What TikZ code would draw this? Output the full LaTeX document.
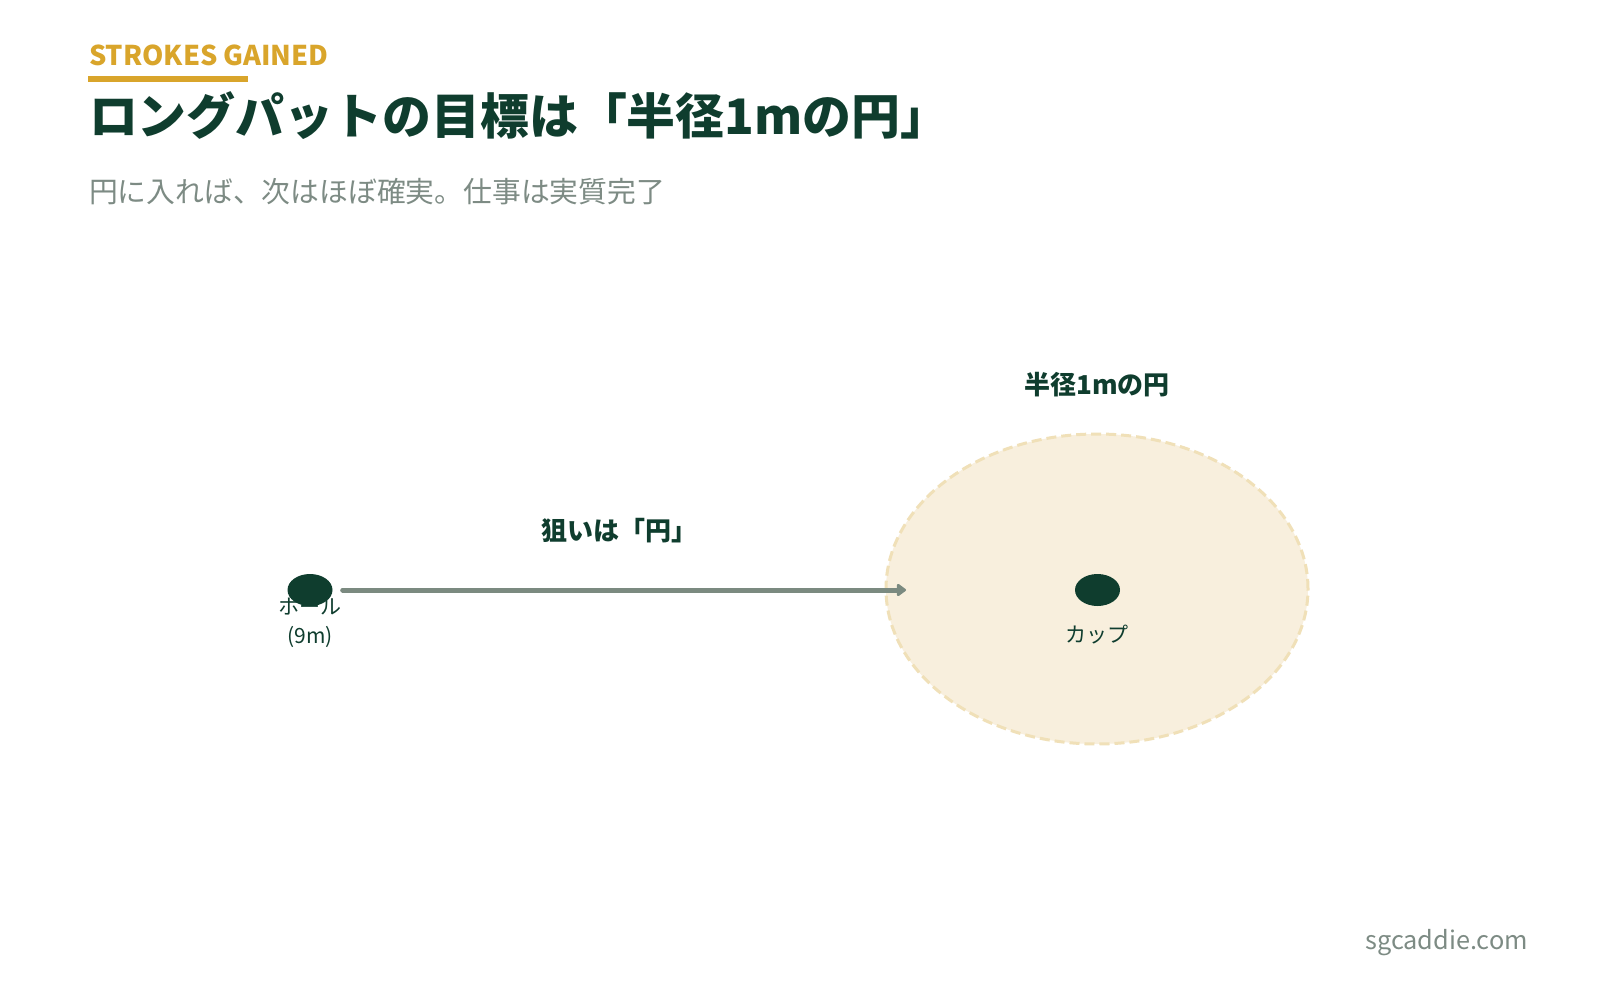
\documentclass[tikz,border=0pt]{standalone}
\usepackage{fontspec}
\setmainfont{Noto Sans CJK JP}
\usetikzlibrary{shapes.geometric,arrows.meta}
\definecolor{sgdark}{HTML}{0F3D2E}
\definecolor{sggold}{HTML}{D9A52B}
\definecolor{sggray}{HTML}{7D8B84}
\definecolor{sgarrow}{HTML}{7B8A80}
\definecolor{sgcream}{HTML}{F8EFDD}
\definecolor{sgcreamline}{HTML}{F0E0B8}
\tikzset{
  txt/.style={inner sep=0pt, outer sep=0pt},
  kicker/.style={txt, anchor=base west, text=sggold, font=\fontsize{27.2}{32}\selectfont\bfseries},
  headline/.style={txt, anchor=base west, text=sgdark, font=\fontsize{48.9}{58}\selectfont\bfseries},
  subline/.style={txt, anchor=base west, text=sggray, font=\fontsize{28.8}{34}\selectfont},
  boldlabel/.style={txt, anchor=base, text=sgdark, font=\fontsize{26}{30}\selectfont\bfseries},
  smalllabel/.style={txt, anchor=base, text=sgdark, font=\fontsize{21}{29}\selectfont, align=center},
  footer/.style={txt, anchor=base east, text=sggray, font=\fontsize{25.3}{30}\selectfont},
  zone/.style={ellipse, minimum width=422pt, minimum height=310pt, inner sep=0pt,
    fill=sgcream, draw=sgcreamline, line width=3pt, dash pattern=on 10pt off 5pt},
  dot/.style={ellipse, minimum width=45pt, minimum height=32pt, inner sep=0pt, fill=sgdark},
  aimarrow/.style={draw=sgarrow, line width=5pt, line cap=round,
    -{Triangle[length=10pt,width=14pt,round]}, shorten <=10pt}
}
\begin{document}
\begin{tikzpicture}[x=1pt,y=-1pt]
\useasboundingbox (0,0) rectangle (1600,1000);
\fill[white] (0,0) rectangle (1600,1000);
% header
\node[kicker] (kick) at (89,66) {STROKES GAINED};
\fill[sggold] (88,76) rectangle (248,82);
\node[headline] (title) at (89,135) {ロングパットの目標は「半径1mの円」};
\node[subline] (sub) at (89,203) {円に入れば、次はほぼ確実。仕事は実質完了};
% circle zone
\node[zone] (zone) at (1097,589) {};
\node[boldlabel] (zonelabel) at (1097,394) {半径1mの円};
\node[dot] (cup) at (1097.5,590) {};
\node[smalllabel] (cuplabel) at (1097,642) {カップ};
% ball
\node[smalllabel] (balllabel) at (310,643) {ホール\\(9m)};
\node[dot] (ball) at (310,590) {};
% arrow
\coordinate (aim) at (906,590);
\draw[aimarrow] (ball) -- (aim);
\node[boldlabel] (aimlabel) at (619,540) {狙いは「円」};
% footer
\node[footer] (site) at (1528,949) {sgcaddie.com};
\end{tikzpicture}
\end{document}
